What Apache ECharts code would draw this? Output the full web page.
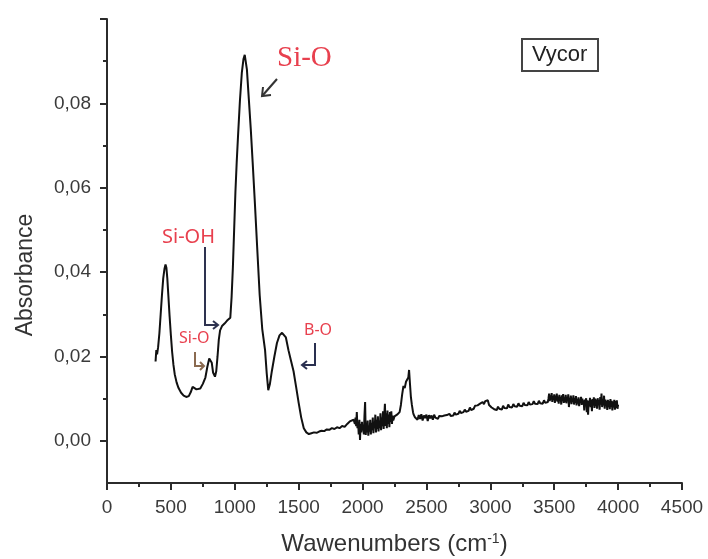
<!DOCTYPE html>
<html>
<head>
<meta charset="utf-8">
<title>Vycor</title>
<script src="https://cdn.jsdelivr.net/npm/echarts@6/dist/echarts.min.js"></script>
<style>
    html, body { margin: 0; padding: 0; background: #fff; }
    #main { width: 708px; height: 559px; }
</style>
</head>
<body>
<div id="main"></div>
<script type="text/javascript">
    // 光谱数据 [波数, 吸光度]，分段记录
    // 380-1930: 主要吸收带
    var bandRegion = [
        [380, 0.0188], [386, 0.0215], [392, 0.0205], [400, 0.0222], [410, 0.0255], [420, 0.0300], [430, 0.0345], [440, 0.0385],
        [450, 0.0408], [458, 0.0418], [465, 0.0410], [472, 0.0385], [480, 0.0345], [490, 0.0295], [500, 0.0250], [510, 0.0210],
        [520, 0.0180], [530, 0.0158], [545, 0.0138], [560, 0.0125], [580, 0.0114], [600, 0.0107], [620, 0.0104], [640, 0.0106],
        [655, 0.0115], [670, 0.0128], [685, 0.0130], [700, 0.0122], [715, 0.0118], [730, 0.0124], [750, 0.0135], [770, 0.0150],
        [785, 0.0175], [800, 0.0195], [810, 0.0197], [820, 0.0185], [830, 0.0162], [845, 0.0152], [855, 0.0165], [865, 0.0200],
        [875, 0.0240], [885, 0.0262], [900, 0.0272], [920, 0.0278], [940, 0.0285], [965, 0.0292], [975, 0.0340], [985, 0.0410],
        [995, 0.0500], [1005, 0.0590], [1015, 0.0660], [1025, 0.0720], [1040, 0.0805], [1055, 0.0872], [1068, 0.0905], [1078, 0.0915],
        [1085, 0.0912], [1095, 0.0880], [1110, 0.0810], [1125, 0.0740], [1140, 0.0660], [1158, 0.0560], [1175, 0.0460], [1195, 0.0345],
        [1215, 0.0265], [1237, 0.0215], [1250, 0.0160], [1262, 0.0120], [1275, 0.0135], [1290, 0.0165], [1310, 0.0200], [1330, 0.0232],
        [1350, 0.0250], [1370, 0.0256], [1385, 0.0258], [1400, 0.0245], [1420, 0.0215], [1440, 0.0190], [1460, 0.0165], [1480, 0.0128],
        [1500, 0.0090], [1520, 0.0055], [1540, 0.0030], [1560, 0.0020], [1580, 0.0016], [1600, 0.0018], [1620, 0.0020], [1640, 0.0019],
        [1660, 0.0022], [1680, 0.0024], [1700, 0.0023], [1720, 0.0027], [1740, 0.0026], [1760, 0.0030], [1780, 0.0028], [1800, 0.0032],
        [1820, 0.0030], [1840, 0.0035], [1860, 0.0033], [1880, 0.0040], [1900, 0.0046], [1915, 0.0042], [1930, 0.0050]
    ];
    // 1935-2395: 噪声区与 CO2 峰
    var noiseRegion = [
        [1935, 0.0048], [1940, 0.0040], [1945, 0.0055], [1950, 0.0035], [1955, 0.0068], [1960, 0.0030], [1965, 0.0045], [1970, 0.0015],
        [1975, 0.0050], [1980, 0.0002], [1985, 0.0040], [1990, 0.0020], [1995, 0.0045], [2000, 0.0025], [2005, 0.0035], [2010, 0.0015],
        [2015, 0.0060], [2020, 0.0092], [2025, 0.0014], [2030, 0.0040], [2035, 0.0020], [2040, 0.0048], [2045, 0.0012], [2050, 0.0035],
        [2055, 0.0022], [2060, 0.0050], [2065, 0.0015], [2070, 0.0042], [2075, 0.0025], [2080, 0.0055], [2085, 0.0018], [2090, 0.0045],
        [2095, 0.0030], [2100, 0.0062], [2105, 0.0020], [2110, 0.0050], [2115, 0.0028], [2120, 0.0058], [2125, 0.0022], [2130, 0.0048],
        [2135, 0.0030], [2140, 0.0065], [2145, 0.0025], [2150, 0.0055], [2155, 0.0035], [2160, 0.0070], [2165, 0.0028], [2170, 0.0060],
        [2175, 0.0088], [2180, 0.0035], [2185, 0.0065], [2190, 0.0030], [2195, 0.0072], [2200, 0.0040], [2205, 0.0062], [2210, 0.0032],
        [2215, 0.0068], [2220, 0.0045], [2225, 0.0070], [2230, 0.0040], [2235, 0.0060], [2240, 0.0048], [2250, 0.0058], [2260, 0.0055],
        [2270, 0.0062], [2280, 0.0060], [2290, 0.0068], [2300, 0.0085], [2310, 0.0110], [2320, 0.0130], [2330, 0.0125], [2340, 0.0140],
        [2350, 0.0138], [2358, 0.0150], [2364, 0.0168], [2370, 0.0140], [2378, 0.0105], [2386, 0.0085], [2395, 0.0068]
    ];
    // 2400-3440: 平台区
    var plateauRegion = [
        [2400, 0.0062], [2410, 0.0056], [2420, 0.0060], [2430, 0.0050], [2440, 0.0061], [2450, 0.0052], [2460, 0.0063], [2470, 0.0048],
        [2480, 0.0060], [2490, 0.0054], [2500, 0.0062], [2510, 0.0047], [2520, 0.0061], [2530, 0.0053], [2540, 0.0060], [2550, 0.0050],
        [2560, 0.0062], [2570, 0.0055], [2580, 0.0058], [2590, 0.0052], [2600, 0.0059], [2610, 0.0055], [2620, 0.0058], [2630, 0.0054],
        [2640, 0.0060], [2650, 0.0056], [2660, 0.0061], [2670, 0.0057], [2680, 0.0064], [2690, 0.0059], [2700, 0.0062], [2710, 0.0060],
        [2720, 0.0067], [2730, 0.0062], [2740, 0.0066], [2750, 0.0064], [2760, 0.0071], [2770, 0.0066], [2780, 0.0070], [2790, 0.0068],
        [2800, 0.0074], [2810, 0.0069], [2820, 0.0073], [2830, 0.0071], [2840, 0.0079], [2850, 0.0073], [2860, 0.0077], [2870, 0.0076],
        [2880, 0.0083], [2890, 0.0079], [2900, 0.0084], [2910, 0.0081], [2920, 0.0088], [2930, 0.0085], [2940, 0.0092], [2950, 0.0087],
        [2960, 0.0094], [2970, 0.0090], [2980, 0.0096], [2990, 0.0085], [3000, 0.0082], [3010, 0.0079], [3020, 0.0081], [3030, 0.0075],
        [3040, 0.0078], [3050, 0.0073], [3060, 0.0081], [3070, 0.0076], [3080, 0.0079], [3090, 0.0074], [3100, 0.0083], [3110, 0.0078],
        [3120, 0.0081], [3130, 0.0077], [3140, 0.0086], [3150, 0.0080], [3160, 0.0084], [3170, 0.0079], [3180, 0.0087], [3190, 0.0082],
        [3200, 0.0085], [3210, 0.0081], [3220, 0.0089], [3230, 0.0083], [3240, 0.0087], [3250, 0.0082], [3260, 0.0090], [3270, 0.0085],
        [3280, 0.0088], [3290, 0.0084], [3300, 0.0092], [3310, 0.0086], [3320, 0.0090], [3330, 0.0087], [3340, 0.0094], [3350, 0.0088],
        [3360, 0.0091], [3370, 0.0087], [3380, 0.0095], [3390, 0.0089], [3400, 0.0092], [3410, 0.0088], [3420, 0.0096], [3430, 0.0090],
        [3440, 0.0094]
    ];
    // 3450-4000: O-H 区噪声带
    var ohRegion = [
        [3450, 0.0092], [3455, 0.0100], [3460, 0.0112], [3465, 0.0094], [3470, 0.0108], [3475, 0.0098], [3480, 0.0113], [3485, 0.0092],
        [3490, 0.0106], [3495, 0.0097], [3500, 0.0110], [3505, 0.0090], [3510, 0.0107], [3515, 0.0095], [3520, 0.0112], [3525, 0.0093],
        [3530, 0.0105], [3535, 0.0088], [3540, 0.0109], [3545, 0.0096], [3550, 0.0104], [3555, 0.0086], [3560, 0.0108], [3565, 0.0094],
        [3570, 0.0111], [3575, 0.0090], [3580, 0.0103], [3585, 0.0092], [3590, 0.0109], [3595, 0.0089], [3600, 0.0104], [3605, 0.0095],
        [3610, 0.0110], [3615, 0.0080], [3620, 0.0102], [3625, 0.0091], [3630, 0.0107], [3635, 0.0087], [3640, 0.0100], [3645, 0.0093],
        [3650, 0.0108], [3655, 0.0086], [3660, 0.0101], [3665, 0.0090], [3670, 0.0106], [3675, 0.0084], [3680, 0.0099], [3685, 0.0088],
        [3690, 0.0103], [3695, 0.0082], [3700, 0.0098], [3705, 0.0090], [3710, 0.0104], [3715, 0.0085], [3720, 0.0100], [3725, 0.0087],
        [3730, 0.0096], [3735, 0.0072], [3740, 0.0098], [3745, 0.0086], [3750, 0.0101], [3755, 0.0068], [3760, 0.0096], [3765, 0.0062],
        [3770, 0.0094], [3775, 0.0083], [3780, 0.0102], [3785, 0.0080], [3790, 0.0097], [3795, 0.0070], [3800, 0.0099], [3805, 0.0084],
        [3810, 0.0103], [3815, 0.0078], [3820, 0.0100], [3825, 0.0082], [3830, 0.0098], [3835, 0.0076], [3840, 0.0101], [3845, 0.0085],
        [3850, 0.0097], [3855, 0.0074], [3860, 0.0104], [3865, 0.0086], [3870, 0.0112], [3875, 0.0080], [3880, 0.0099], [3885, 0.0084],
        [3890, 0.0107], [3895, 0.0076], [3900, 0.0098], [3905, 0.0082], [3910, 0.0095], [3915, 0.0073], [3920, 0.0097], [3925, 0.0080],
        [3930, 0.0094], [3935, 0.0075], [3940, 0.0099], [3945, 0.0081], [3950, 0.0095], [3955, 0.0072], [3960, 0.0093], [3965, 0.0079],
        [3970, 0.0097], [3975, 0.0074], [3980, 0.0094], [3985, 0.0078], [3990, 0.0096], [3995, 0.0076], [4000, 0.0086]
    ];
    // 刻度
    var yMajorTicks = [0, 0.02, 0.04, 0.06, 0.08, 0.10];
    var yLabelTicks = [0, 0.02, 0.04, 0.06, 0.08];
    var yMinorTicks = [0.01, 0.03, 0.05, 0.07, 0.09];

    var seriesData = bandRegion.concat(noiseRegion, plateauRegion, ohRegion);

    var axisColor = '#2b2b2b';
    var labelFont = 'Liberation Sans';
    var red = '#e8404e';

    var myChart = echarts.init(document.getElementById('main'));
    var option = {
        animation: false,
        backgroundColor: '#fff',
        title: {
            text: 'Vycor',
            left: 522,
            top: 39,
            borderColor: '#444',
            borderWidth: 2,
            padding: [5, 11, 5, 10],
            textStyle: { fontFamily: labelFont, fontSize: 22, fontWeight: 'normal', color: '#222' }
        },
        grid: {
            left: 107,
            right: 26,
            top: 19,
            bottom: 76,
            containLabel: false,
            outerBoundsMode: 'none'
        },
        xAxis: {
            type: 'value',
            min: 0,
            max: 4500,
            interval: 500,
            name: 'Wawenumbers (cm{sup|-1})',
            nameLocation: 'middle',
            nameGap: 49,
            nameTextStyle: {
                fontFamily: labelFont, fontSize: 24, color: '#333',
                rich: { sup: { fontFamily: labelFont, fontSize: 14, color: '#333', verticalAlign: 'top', padding: [0, 0, 10, 0] } }
            },
            axisLine: { show: true, onZero: false, lineStyle: { color: axisColor, width: 2 } },
            axisTick: { show: true, inside: false, length: 7, lineStyle: { color: axisColor, width: 2 } },
            minorTick: { show: true, splitNumber: 2, length: 4, lineStyle: { color: axisColor, width: 2 } },
            axisLabel: {
                fontFamily: labelFont, fontSize: 19, color: '#3a3a3a', margin: 15,
                formatter: function (v) { return String(v); }
            },
            splitLine: { show: false }
        },
        yAxis: [
            {
                type: 'value',
                min: -0.01,
                max: 0.10,
                interval: 0.01,
                name: 'Absorbance',
                nameLocation: 'middle',
                nameRotate: 90,
                nameGap: 70,
                nameTextStyle: { fontFamily: labelFont, fontSize: 23, color: '#333', padding: [0, 48, 0, 0] },
                axisLine: { show: true, onZero: false, lineStyle: { color: axisColor, width: 2 } },
                axisTick: { show: true, length: 7, customValues: yMajorTicks, lineStyle: { color: axisColor, width: 2 } },
                axisLabel: {
                    fontFamily: labelFont, fontSize: 19, color: '#3a3a3a', margin: 16,
                    customValues: yLabelTicks,
                    formatter: function (v) { return v.toFixed(2).replace('.', ','); }
                },
                splitLine: { show: false }
            },
            {
                type: 'value',
                min: -0.01,
                max: 0.10,
                interval: 0.01,
                position: 'left',
                axisLine: { show: false },
                axisTick: { show: true, length: 4, customValues: yMinorTicks, lineStyle: { color: axisColor, width: 2 } },
                axisLabel: { show: false },
                splitLine: { show: false }
            }
        ],
        series: [
            {
                name: 'Vycor',
                type: 'line',
                data: seriesData,
                showSymbol: false,
                smooth: false,
                lineStyle: { color: '#111', width: 2 }
            }
        ],
        graphic: [
            // Si-O 主峰标注
            { type: 'text', left: 277, top: 44, style: { text: 'Si-O', fontFamily: 'Liberation Serif', fontSize: 29, fill: red } },
            { type: 'polyline', shape: { points: [[277, 79], [263, 95]] }, style: { stroke: '#333', lineWidth: 2, fill: null } },
            { type: 'polyline', shape: { points: [[263, 87], [262, 96], [271, 95]] }, style: { stroke: '#333', lineWidth: 2, fill: null } },
            // Si-OH
            { type: 'text', left: 162, top: 227, style: { text: 'Si-OH', fontFamily: 'Noto Sans', fontSize: 20, fill: red } },
            { type: 'polyline', shape: { points: [[205, 247], [205, 325], [218, 325]] }, style: { stroke: '#2e3350', lineWidth: 2, fill: null } },
            { type: 'polyline', shape: { points: [[213, 321], [218, 325], [213, 329]] }, style: { stroke: '#2e3350', lineWidth: 2, fill: null } },
            // Si-O 小峰
            { type: 'text', left: 179, top: 330, style: { text: 'Si-O', fontFamily: 'Noto Sans', fontSize: 16, fill: red } },
            { type: 'polyline', shape: { points: [[195, 352], [195, 366], [204, 366]] }, style: { stroke: '#8a6a50', lineWidth: 2, fill: null } },
            { type: 'polyline', shape: { points: [[200, 362], [204, 366], [200, 370]] }, style: { stroke: '#8a6a50', lineWidth: 2, fill: null } },
            // B-O
            { type: 'text', left: 304, top: 322, style: { text: 'B-O', fontFamily: 'Noto Sans', fontSize: 16, fill: red } },
            { type: 'polyline', shape: { points: [[315, 343], [315, 365], [302, 365]] }, style: { stroke: '#2a3050', lineWidth: 2, fill: null } },
            { type: 'polyline', shape: { points: [[307, 361], [302, 365], [307, 369]] }, style: { stroke: '#2a3050', lineWidth: 2, fill: null } }
        ]
    };

    // 为echarts对象加载数据
    myChart.setOption(option);
</script>
</body>
</html>
